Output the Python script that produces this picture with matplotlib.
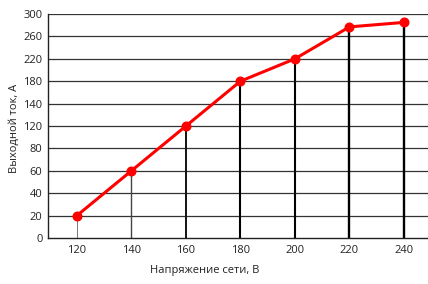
import numpy as np
import matplotlib
matplotlib.use("Agg")
import matplotlib.pyplot as plt

voltage = [120, 140, 160, 180, 200, 220, 240]
current = [20, 60, 120, 180, 220, 277, 285]
ytick_values = [0, 20, 40, 60, 80, 120, 140, 180, 220, 260, 300]
bar_widths = [0.7, 1.0, 1.4, 1.5, 1.5, 1.7, 1.7]
bar_colors = ["#777777", "#444444", "#111111", "#000000", "#000000", "#000000", "#000000"]

plt.rcParams['font.family'] = ['Open Sans', 'DejaVu Sans']

tv = np.array(ytick_values, dtype=float)
idx = np.arange(len(tv), dtype=float)

def fwd(y):
    return np.interp(y, tv, idx)

def inv(i):
    return np.interp(i, idx, tv)

fig = plt.figure(figsize=(4.28, 2.84), dpi=100)
ax = fig.add_axes([48/428, 1 - 238/284, 1 - 48/428, 224/284])
ax.set_yscale('function', functions=(fwd, inv))
ax.set_ylim(0, 300)
ax.set_xlim(109.4, 248.8)

for v in ytick_values[1:]:
    ax.axhline(v, color="#333333", lw=0.9, zorder=1)

ax.vlines(voltage, 0, current, colors=bar_colors, linewidths=bar_widths, zorder=2)
ax.plot(voltage, current, color="#ff0000", lw=2.2, marker='o', ms=6.2, zorder=3)

ax.set_yticks(ytick_values)
ax.set_yticklabels([str(v) for v in ytick_values])
ax.set_xticks(voltage)
ax.set_xticklabels([str(v) for v in voltage])
ax.tick_params(length=0, labelsize=8, colors="#222222", pad=4)
ax.tick_params(axis='x', pad=5)

for s in ['top', 'right']:
    ax.spines[s].set_visible(False)
ax.spines['left'].set_color("#222222")
ax.spines['bottom'].set_color("#222222")
ax.spines['left'].set_linewidth(1.0)
ax.spines['bottom'].set_linewidth(1.0)

fig.text(205/428, 1 - 271/284, "Напряжение сети, В", ha='center', va='center', fontsize=8, color="#222222")
fig.text(14/428, 1 - 128/284, "Выходной ток, А", ha='center', va='center', rotation=90, fontsize=8, color="#222222")

fig.savefig("out.png", dpi=100)
